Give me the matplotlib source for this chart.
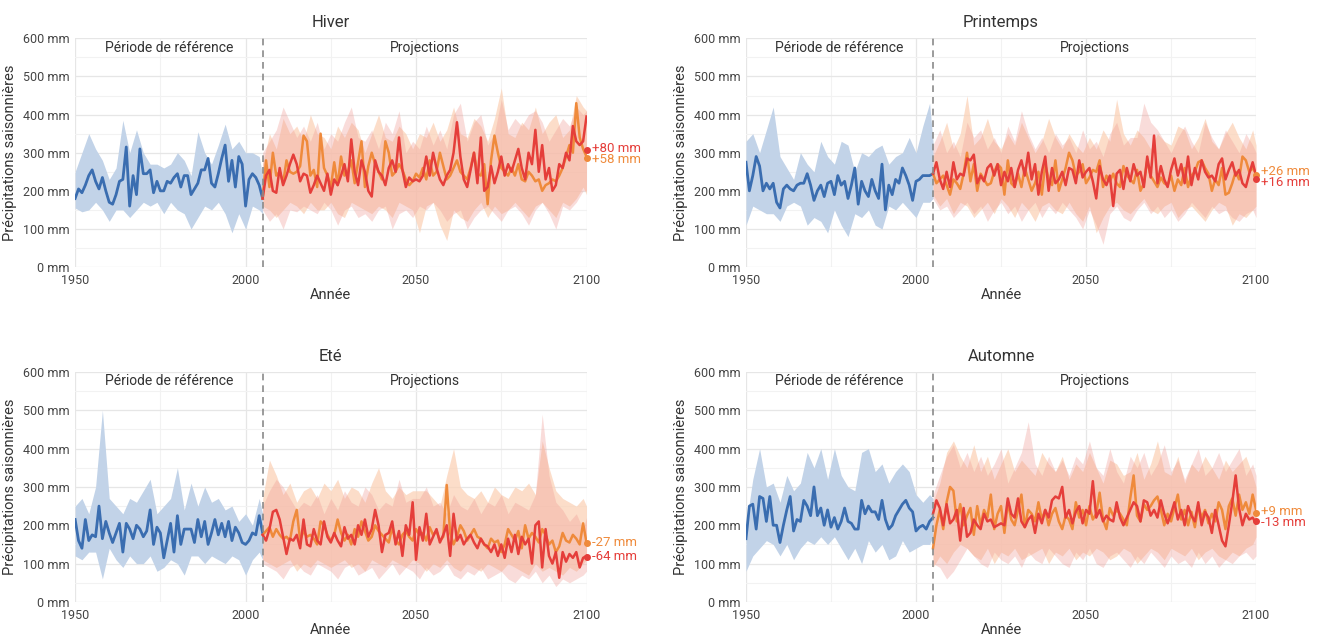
import matplotlib
matplotlib.use("Agg")
import matplotlib.pyplot as plt
from matplotlib.ticker import MultipleLocator, FuncFormatter
import numpy as np

plt.rcParams['font.family'] = ['Roboto', 'DejaVu Sans']

# years
hist_years = np.arange(1950, 2006)
proj_years = np.arange(2005, 2101)
hist_band_years = list(range(1950, 2005, 2)) + [2005]
proj_band_years = list(range(2005, 2100, 2)) + [2100]

seasons = ["Hiver", "Printemps", "Eté", "Automne"]

# ---------------- Hiver ----------------
hiver_blue = [180, 205, 195, 215, 240, 255, 225, 205, 235, 200,
              170, 165, 190, 225, 230, 315, 160, 240, 190, 310,
              245, 245, 255, 195, 225, 200, 200, 225, 220, 235,
              245, 210, 240, 240, 190, 205, 220, 255, 255, 285,
              220, 210, 245, 285, 320, 225, 280, 210, 290, 270,
              160, 230, 245, 235, 215, 180]
hiver_blue_hi = [250, 300, 350, 310, 280, 230, 260, 385, 300, 360,
                 300, 270, 270, 260, 270, 300, 280, 240, 355, 300,
                 270, 320, 375, 310, 330, 300, 300, 290, 240]
hiver_blue_lo = [155, 145, 150, 170, 150, 120, 150, 150, 130, 150,
                 170, 160, 170, 140, 170, 150, 140, 100, 130, 160,
                 150, 170, 140, 90, 140, 100, 160, 150, 140]
hiver_red = [180, 240, 255, 200, 195, 260, 215, 240, 270, 295,
             270, 225, 245, 240, 195, 215, 240, 220, 200, 245,
             190, 230, 215, 240, 270, 225, 335, 250, 215, 280,
             250, 200, 185, 280, 250, 240, 215, 260, 280, 250,
             340, 255, 210, 235, 225, 230, 225, 240, 290, 240,
             300, 260, 230, 215, 240, 255, 300, 380, 290, 230,
             210, 255, 300, 220, 340, 200, 210, 265, 220, 250,
             290, 240, 270, 250, 280, 310, 260, 230, 300, 270,
             360, 250, 320, 230, 260, 200, 215, 270, 260, 300,
             280, 370, 330, 320, 330, 395]
hiver_orange = [180, 280, 210, 300, 240, 250, 220, 280, 250, 245,
                250, 265, 345, 330, 240, 255, 210, 350, 260, 240,
                210, 275, 215, 290, 240, 250, 280, 220, 275, 330,
                210, 265, 300, 270, 250, 230, 330, 300, 240, 250,
                270, 255, 230, 215, 225, 245, 235, 260, 230, 280,
                240, 250, 300, 265, 230, 240, 260, 280, 250, 240,
                230, 260, 300, 245, 240, 270, 165, 280, 345, 300,
                260, 250, 240, 260, 240, 270, 230, 225, 250, 240,
                225, 230, 200, 215, 220, 230, 225, 240, 260, 290,
                320, 300, 430, 340, 310, 290]
hiver_red_hi = [300, 330, 360, 420, 380, 340, 370, 330, 380, 310,
                350, 330, 380, 420, 340, 330, 360, 310, 380, 350,
                410, 300, 330, 310, 370, 320, 360, 310, 400, 430,
                330, 380, 400, 320, 350, 440, 360, 390, 370, 400,
                410, 380, 330, 360, 390, 370, 420, 400, 410]
hiver_red_lo = [150, 120, 140, 100, 150, 145, 160, 150, 140, 170,
                150, 110, 150, 160, 130, 140, 120, 150, 160, 100,
                140, 150, 130, 160, 150, 170, 150, 120, 140, 150,
                100, 130, 150, 160, 140, 120, 150, 160, 140, 110,
                150, 170, 140, 100, 160, 150, 170, 200, 200]
hiver_orange_hi = [270, 350, 310, 390, 350, 370, 330, 400, 350, 340,
                   310, 370, 340, 380, 360, 300, 350, 400, 340, 330,
                   370, 350, 310, 350, 340, 380, 330, 360, 420, 350,
                   340, 390, 370, 330, 390, 470, 350, 340, 380, 360,
                   420, 350, 380, 400, 340, 360, 450, 420, 410]
hiver_orange_lo = [160, 150, 130, 150, 170, 160, 140, 170, 150, 150,
                   170, 140, 130, 170, 160, 150, 140, 160, 150, 130,
                   170, 160, 150, 90, 160, 170, 110, 70, 150, 130,
                   120, 150, 170, 130, 160, 140, 150, 170, 150, 130,
                   160, 170, 150, 130, 170, 160, 180, 210, 190]

# ---------------- Printemps ----------------
printemps_blue = [275, 200, 240, 290, 265, 200, 220, 205, 220, 170,
                  155, 205, 215, 205, 200, 215, 220, 220, 245, 215,
                  175, 200, 215, 185, 220, 225, 190, 240, 215, 225,
                  180, 215, 260, 165, 225, 200, 185, 230, 200, 180,
                  270, 150, 215, 190, 230, 220, 260, 240, 215, 175,
                  225, 230, 240, 240, 240, 245]
printemps_blue_hi = [330, 350, 300, 360, 420, 290, 260, 230, 300, 270,
                     250, 330, 290, 270, 330, 320, 250, 300, 290, 310,
                     320, 270, 290, 300, 340, 300, 370, 430, 330]
printemps_blue_lo = [110, 160, 150, 140, 140, 120, 160, 170, 160, 110,
                     130, 120, 90, 150, 110, 80, 140, 130, 150, 110,
                     100, 160, 150, 170, 150, 130, 170, 170, 180]
printemps_red = [245, 275, 230, 205, 250, 210, 275, 230, 245, 240,
                 285, 280, 295, 220, 240, 225, 260, 270, 240, 270,
                 215, 250, 225, 260, 210, 255, 280, 240, 300, 230,
                 270, 190, 250, 290, 200, 260, 220, 230, 250, 215,
                 260, 255, 220, 280, 235, 250, 260, 225, 180, 265,
                 230, 215, 240, 160, 245, 255, 205, 260, 225, 270,
                 240, 250, 210, 290, 235, 345, 220, 265, 230, 210,
                 255, 285, 240, 270, 220, 290, 215, 260, 230, 280,
                 250, 235, 240, 225, 270, 285, 230, 255, 275, 240,
                 255, 220, 210, 245, 275, 240]
printemps_orange = [245, 220, 230, 240, 215, 190, 230, 220, 205, 245,
                    300, 225, 270, 200, 245, 230, 215, 220, 250, 270,
                    260, 190, 280, 220, 210, 245, 210, 260, 230, 200,
                    220, 250, 190, 270, 230, 215, 280, 200, 230, 260,
                    300, 280, 240, 250, 270, 220, 235, 255, 250, 280,
                    210, 240, 225, 245, 220, 210, 265, 240, 230, 220,
                    255, 200, 220, 280, 240, 225, 210, 235, 220, 215,
                    240, 200, 230, 215, 260, 210, 240, 250, 275, 280,
                    260, 245, 200, 230, 215, 260, 190, 195, 220, 250,
                    230, 290, 280, 250, 260, 245]
printemps_red_hi = [320, 360, 300, 330, 290, 380, 340, 360, 310, 340,
                    300, 370, 330, 410, 350, 310, 340, 300, 350, 320,
                    340, 300, 360, 310, 330, 290, 350, 380, 320, 340,
                    340, 430, 380, 360, 330, 300, 340, 370, 330, 300,
                    380, 340, 310, 360, 330, 300, 350, 320, 300]
printemps_red_lo = [180, 150, 160, 130, 150, 170, 140, 160, 120, 150,
                    170, 140, 160, 120, 150, 170, 130, 160, 140, 170,
                    150, 130, 100, 150, 110, 60, 140, 160, 130, 120,
                    150, 170, 140, 160, 130, 150, 120, 140, 170, 150,
                    130, 160, 140, 150, 130, 120, 140, 150, 130]
printemps_orange_hi = [290, 330, 380, 310, 350, 450, 320, 340, 390, 330,
                       310, 350, 320, 380, 340, 300, 330, 390, 340, 310,
                       350, 320, 300, 340, 310, 360, 330, 440, 350, 320,
                       360, 340, 310, 350, 330, 320, 370, 360, 310, 340,
                       390, 330, 310, 350, 380, 340, 310, 360, 320]
printemps_orange_lo = [190, 160, 180, 140, 170, 160, 130, 150, 170, 140,
                       180, 160, 130, 170, 150, 120, 160, 170, 150, 140,
                       170, 140, 120, 160, 90, 130, 160, 170, 150, 140,
                       160, 180, 150, 140, 160, 170, 130, 150, 160, 140,
                       120, 150, 170, 160, 110, 140, 130, 150, 160]

# ---------------- Eté ----------------
ete_blue = [215, 160, 140, 215, 160, 175, 170, 250, 165, 210,
            180, 155, 180, 205, 130, 205, 190, 165, 200, 190,
            170, 185, 240, 150, 195, 180, 115, 160, 205, 130,
            225, 150, 190, 190, 190, 155, 215, 170, 210, 150,
            180, 215, 175, 205, 170, 210, 160, 195, 180, 155,
            150, 160, 180, 175, 225, 180]
ete_blue_hi = [250, 270, 230, 300, 500, 270, 250, 230, 270, 260,
               290, 320, 230, 250, 270, 350, 240, 310, 250, 300,
               260, 270, 240, 250, 210, 230, 200, 270, 230]
ete_blue_lo = [120, 110, 130, 130, 60, 140, 110, 90, 120, 100,
               100, 120, 80, 90, 110, 100, 70, 120, 120, 100,
               120, 110, 100, 120, 110, 70, 110, 130, 110]
ete_red = [175, 160, 190, 235, 240, 215, 170, 125, 165, 160,
           175, 140, 215, 150, 145, 190, 160, 150, 210, 170,
           155, 180, 160, 145, 195, 165, 175, 150, 200, 175,
           215, 170, 190, 240, 200, 130, 175, 180, 210, 150,
           185, 120, 200, 175, 260, 110, 195, 160, 230, 150,
           170, 190, 155, 175, 200, 120, 230, 160, 175, 150,
           165, 175, 155, 140, 165, 150, 145, 130, 150, 120,
           150, 115, 165, 130, 175, 125, 170, 150, 165, 100,
           200, 210, 90, 190, 120, 100, 130, 63, 130, 105,
           125, 115, 130, 90, 115, 120]
ete_orange = [175, 185, 195, 170, 190, 175, 165, 170, 160, 210,
              240, 160, 185, 170, 175, 165, 150, 210, 200, 175,
              160, 175, 215, 180, 160, 175, 150, 190, 170, 210,
              185, 160, 170, 200, 185, 175, 165, 155, 195, 160,
              150, 175, 185, 170, 160, 190, 175, 180, 160, 195,
              175, 185, 160, 170, 305, 180, 150, 170, 200, 185,
              160, 175, 190, 170, 165, 150, 140, 165, 155, 160,
              130, 150, 190, 175, 160, 185, 140, 200, 165, 180,
              170, 155, 190, 175, 150, 160, 130, 145, 180, 160,
              155, 175, 165, 150, 205, 155]
ete_red_hi = [250, 290, 320, 300, 270, 240, 260, 250, 280, 230,
              270, 240, 290, 260, 250, 300, 280, 240, 260, 250,
              320, 260, 270, 270, 300, 250, 260, 230, 280, 250,
              240, 270, 230, 260, 250, 280, 230, 260, 250, 240,
              280, 490, 330, 260, 240, 210, 230, 190, 220]
ete_red_lo = [100, 90, 80, 60, 90, 100, 80, 70, 100, 90,
              80, 60, 90, 100, 70, 80, 90, 60, 80, 100,
              70, 90, 80, 60, 90, 70, 80, 100, 70, 60,
              80, 70, 90, 60, 70, 80, 60, 50, 70, 60,
              80, 50, 70, 40, 60, 50, 60, 70, 80]
ete_orange_hi = [270, 370, 330, 280, 310, 260, 290, 300, 270, 310,
                 290, 320, 270, 300, 290, 260, 310, 350, 290, 270,
                 300, 280, 290, 290, 290, 270, 250, 330, 400, 300,
                 280, 270, 290, 260, 300, 280, 270, 300, 290, 310,
                 280, 420, 350, 290, 270, 260, 250, 270, 250]
ete_orange_lo = [110, 100, 90, 100, 110, 80, 100, 90, 110, 100,
                 90, 100, 110, 90, 100, 80, 110, 100, 90, 110,
                 100, 90, 110, 100, 80, 100, 90, 110, 90, 80,
                 100, 90, 80, 100, 90, 80, 100, 90, 80, 70,
                 100, 80, 90, 80, 70, 90, 80, 100, 110]

# ---------------- Automne ----------------
automne_blue = [165, 250, 255, 190, 275, 270, 210, 275, 200, 200,
                155, 200, 240, 275, 185, 215, 210, 265, 250, 225,
                300, 225, 245, 200, 240, 195, 220, 190, 210, 245,
                210, 205, 190, 190, 265, 230, 250, 235, 235, 215,
                265, 215, 190, 200, 225, 240, 255, 265, 245, 235,
                185, 195, 200, 190, 210, 220]
automne_blue_hi = [200, 320, 400, 300, 310, 260, 330, 290, 310, 390,
                   350, 400, 320, 400, 330, 300, 290, 390, 400, 340,
                   360, 310, 340, 360, 340, 280, 260, 280, 270]
automne_blue_lo = [80, 120, 140, 160, 150, 120, 150, 110, 140, 160,
                   150, 170, 150, 170, 140, 110, 140, 100, 160, 130,
                   150, 110, 120, 160, 130, 140, 150, 150, 170]
automne_red = [230, 265, 245, 200, 255, 205, 215, 240, 160, 245,
               170, 180, 215, 200, 190, 230, 210, 215, 195, 200,
               205, 200, 270, 230, 220, 270, 210, 195, 215, 225,
               180, 230, 205, 240, 220, 265, 275, 270, 300, 220,
               240, 205, 235, 250, 205, 240, 230, 315, 220, 240,
               210, 225, 215, 210, 260, 220, 200, 220, 240, 260,
               250, 210, 265, 260, 225, 240, 220, 265, 230, 205,
               230, 260, 215, 240, 200, 250, 225, 210, 260, 200,
               235, 220, 180, 240, 200, 160, 145, 200, 260, 330,
               245, 200, 230, 215, 220, 205]
automne_orange = [140, 200, 240, 190, 260, 300, 290, 210, 255, 200,
                  225, 245, 175, 250, 200, 240, 220, 280, 190, 230,
                  250, 180, 260, 215, 200, 240, 280, 195, 240, 230,
                  210, 260, 215, 240, 200, 230, 245, 210, 190, 225,
                  215, 190, 260, 220, 240, 200, 250, 215, 230, 285,
                  215, 190, 245, 225, 240, 230, 215, 200, 270, 330,
                  225, 210, 255, 240, 250, 265, 275, 240, 200, 230,
                  210, 245, 280, 215, 240, 200, 235, 195, 250, 220,
                  240, 205, 230, 210, 260, 240, 190, 250, 270, 225,
                  280, 240, 260, 230, 280, 240]
automne_red_hi = [280, 330, 380, 410, 350, 390, 340, 380, 330, 360,
                  400, 310, 350, 390, 470, 360, 330, 380, 340, 370,
                  330, 380, 360, 420, 350, 330, 400, 340, 310, 380,
                  350, 390, 330, 360, 410, 340, 370, 320, 360, 400,
                  330, 350, 390, 340, 370, 400, 330, 360, 330]
automne_red_lo = [100, 90, 60, 80, 110, 140, 120, 100, 90, 130,
                  110, 100, 120, 90, 130, 110, 100, 140, 120, 100,
                  90, 130, 110, 140, 100, 90, 120, 130, 110, 90,
                  120, 100, 130, 110, 90, 120, 100, 110, 90, 130,
                  100, 120, 90, 110, 100, 120, 130, 110, 120]
automne_orange_hi = [260, 310, 390, 420, 380, 350, 410, 340, 380, 320,
                     360, 400, 340, 370, 350, 330, 390, 360, 340, 380,
                     320, 360, 340, 390, 350, 310, 370, 360, 330, 340,
                     390, 320, 360, 420, 340, 330, 380, 310, 360, 340,
                     380, 350, 320, 370, 340, 360, 380, 330, 300]
automne_orange_lo = [90, 120, 100, 130, 150, 140, 120, 110, 140, 100,
                     130, 120, 140, 110, 120, 130, 140, 100, 130, 120,
                     140, 110, 130, 120, 140, 130, 110, 120, 140, 130,
                     100, 120, 140, 130, 110, 140, 130, 120, 140, 110,
                     130, 140, 120, 110, 130, 120, 140, 150, 170]

# end-of-century change labels (orange scenario, red scenario)
change_orange = [58, 26, -27, 9]
change_red = [80, 16, -64, -13]

data = {
    "Hiver": (hiver_blue, hiver_blue_lo, hiver_blue_hi, hiver_orange, hiver_red,
              hiver_orange_lo, hiver_orange_hi, hiver_red_lo, hiver_red_hi),
    "Printemps": (printemps_blue, printemps_blue_lo, printemps_blue_hi, printemps_orange, printemps_red,
                  printemps_orange_lo, printemps_orange_hi, printemps_red_lo, printemps_red_hi),
    "Eté": (ete_blue, ete_blue_lo, ete_blue_hi, ete_orange, ete_red,
            ete_orange_lo, ete_orange_hi, ete_red_lo, ete_red_hi),
    "Automne": (automne_blue, automne_blue_lo, automne_blue_hi, automne_orange, automne_red,
                automne_orange_lo, automne_orange_hi, automne_red_lo, automne_red_hi),
}

BLUE = "#3a6db0"
BLUE_BAND = "#c2d3e8"
RED = "#e53e3a"
ORANGE = "#ef8a3b"
RED_BAND = "#f09c95"
ORANGE_BAND = "#fbd2b8"
TXT = "#333333"

fig = plt.figure(figsize=(13.18, 6.39), dpi=100)
positions = [(0.057, 0.582, 0.388, 0.358), (0.566, 0.582, 0.387, 0.358),
             (0.057, 0.058, 0.388, 0.360), (0.566, 0.058, 0.387, 0.360)]

for i, season in enumerate(seasons):
    blue, blue_lo, blue_hi, orange, red, o_lo, o_hi, r_lo, r_hi = data[season]
    ax = fig.add_axes(positions[i])

    ax.fill_between(hist_band_years, blue_lo, blue_hi, color=BLUE_BAND, lw=0)
    ax.fill_between(proj_band_years, o_lo, o_hi, color=ORANGE_BAND, lw=0, alpha=0.75)
    ax.fill_between(proj_band_years, r_lo, r_hi, color=RED_BAND, lw=0, alpha=0.35)
    ax.plot(hist_years, blue, color=BLUE, lw=2)
    ax.plot(proj_years, orange, color=ORANGE, lw=1.8)
    ax.plot(proj_years, red, color=RED, lw=1.8)

    ax.axvline(2005, color="#8a8a8a", ls=(0, (4, 3)), lw=1.2)

    # dots at reference mean + change; labels nudged apart when too close
    ref = np.mean(blue)
    y_o = ref + change_orange[i]
    y_r = ref + change_red[i]
    mid = (y_o + y_r) / 2
    gap = 30
    if abs(y_o - y_r) < gap:
        sign = 1 if y_o >= y_r else -1
        t_o, t_r = mid + sign * gap / 2, mid - sign * gap / 2
    else:
        t_o, t_r = y_o, y_r
    for chg, y, ty, col in [(change_orange[i], y_o, t_o, ORANGE),
                            (change_red[i], y_r, t_r, RED)]:
        ax.plot([2100], [y], "o", color=col, ms=4, clip_on=False, zorder=5)
        ax.text(2101.5, ty, f"{chg:+d} mm", color=col, fontsize=9.5,
                va="center", ha="left", clip_on=False)

    ax.text(1977.5, 575, "Période de référence", ha="center", va="center",
            fontsize=10, color=TXT)
    ax.text(2052.5, 575, "Projections", ha="center", va="center",
            fontsize=10, color=TXT)

    ax.set_xlim(1950, 2100)
    ax.set_ylim(0, 600)
    ax.xaxis.set_major_locator(MultipleLocator(50))
    ax.xaxis.set_minor_locator(MultipleLocator(25))
    ax.yaxis.set_major_locator(MultipleLocator(100))
    ax.yaxis.set_minor_locator(MultipleLocator(50))
    ax.yaxis.set_major_formatter(FuncFormatter(lambda v, p: f"{int(v)} mm"))
    ax.grid(which="major", color="#e6e6e6", lw=0.9)
    ax.grid(which="minor", color="#f2f2f2", lw=0.8)
    ax.set_axisbelow(True)
    ax.tick_params(which="both", length=0, labelsize=9, colors="#444444")
    ax.tick_params(axis="x", pad=5)
    ax.tick_params(axis="y", pad=4)
    for s in ax.spines.values():
        s.set_visible(False)

    ax.set_title(season, fontsize=12, color=TXT, pad=8)
    ax.set_xlabel("Année", fontsize=10.5, color=TXT, labelpad=1)
    ax.set_ylabel("Précipitations saisonnières", fontsize=10.5, color=TXT, labelpad=4)

fig.savefig("out.png", dpi=100)
